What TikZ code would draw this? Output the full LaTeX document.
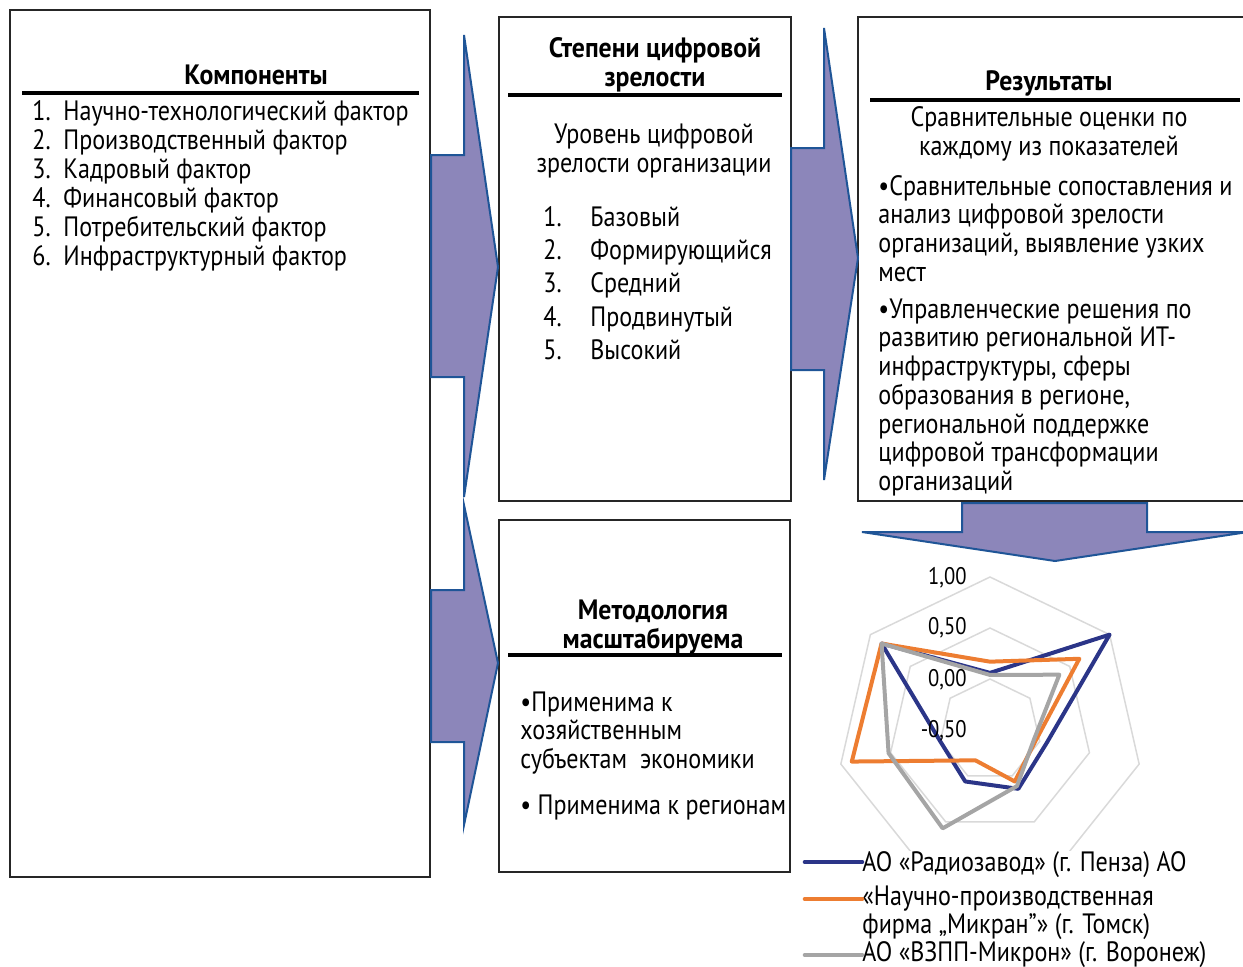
\documentclass[tikz,border=0pt]{standalone}
\usepackage{fontspec}
\setmainfont{PT Sans}[FakeStretch=0.86]
\newfontfamily\ttlfont{PT Sans}[FakeStretch=0.92]
\usetikzlibrary{positioning}

\definecolor{arrowfill}{HTML}{8C86BA}
\definecolor{arrowline}{HTML}{1F5597}
\definecolor{serblue}{HTML}{2B3588}
\definecolor{serorange}{HTML}{ED7D31}
\definecolor{sergray}{HTML}{A5A5A5}
\definecolor{ringgray}{HTML}{D9D9D9}

\tikzset{
  box/.style={draw=black!85, line width=1pt},
  rule/.style={line width=2.2pt},
  blockarrow/.style={fill=arrowfill, draw=arrowline, line width=1pt},
  ttl/.style={font=\ttlfont\fontsize{14}{14.5}\selectfont\bfseries, align=center, inner sep=0pt},
  txt/.style={font=\fontsize{14}{14.5}\selectfont, inner sep=0pt},
  axlbl/.style={font=\fontsize{12}{12}\selectfont, inner sep=0pt, anchor=east},
  ring/.style={draw=ringgray, line width=0.75pt},
  series/.style={line width=2pt, line join=round},
  legkey/.style={line width=2.3pt, line cap=round},
}

\begin{document}
\begin{tikzpicture}[x=0.5pt,y=-0.5pt]
\useasboundingbox (0,0) rectangle (1243,966);

% frames
\draw[box] (10,10) rectangle (430,877);     %components
\draw[box] (499,17) rectangle (791,501);    %maturity levels
\draw[box] (858,17) rectangle (1262,501);   %results
\draw[box] (499,520) rectangle (790,872);   %methodology

% block arrows
\draw[blockarrow] (431,155) -- (464,155) -- (464,35) -- (498,267) -- (464,497) -- (464,377) -- (431,377) -- cycle;
\draw[blockarrow] (791,148) -- (824,148) -- (824,28) -- (858,258) -- (824,480) -- (824,370) -- (791,370) -- cycle;
\draw[blockarrow] (431,590) -- (464,590) -- (464,505) -- (498,663) -- (464,825) -- (464,742) -- (431,742) -- cycle;
\draw[blockarrow] (962,503) -- (1147,503) -- (1147,532) -- (1248,532) -- (1055,561) -- (862,532) -- (962,532) -- cycle;

% components
\node[ttl] (komp) at (256,75) {Компоненты};
\draw[rule] (22,93) -- (419,93);
\node[txt, anchor=base west] (kompList) at (32,120) {\begin{tabular}[t]{@{}p{15.5pt}@{}l@{}}
1. & Научно-технологический фактор\\
2. & Производственный фактор\\
3. & Кадровый фактор\\
4. & Финансовый фактор\\
5. & Потребительский фактор\\
6. & Инфраструктурный фактор
\end{tabular}};

% maturity levels
\node[ttl] (stepen) at (655,65) {Степени цифровой\\зрелости};
\draw[rule] (508,95) -- (782,95);
\node[txt, align=center] (uroven) at (654,151) {Уровень цифровой\\зрелости организации};
\node[txt, anchor=base west, font=\fontsize{14}{16.7}\selectfont] (stepenList) at (543,226) {\begin{tabular}[t]{@{}p{23.5pt}@{}l@{}}
1. & Базовый\\
2. & Формирующийся\\
3. & Средний\\
4. & Продвинутый\\
5. & Высокий
\end{tabular}};

% results
\node[ttl] (rez) at (1049,83) {Результаты};
\draw[rule] (870,100) -- (1240,100);
\node[txt, align=center, font=\fontsize{14}{14.5}\selectfont] (ocenki) at (1049,134) {Сравнительные оценки по\\каждому из показателей};
\node[txt, anchor=base west, font=\fontsize{14}{14.35}\selectfont] (sopost) at (878,195) {\begin{tabular}[t]{@{}l@{}}
•Сравнительные сопоставления и\\
анализ цифровой зрелости\\
организаций, выявление узких\\
мест
\end{tabular}};
\node[txt, anchor=base west, font=\fontsize{14}{14.35}\selectfont] (resheniya) at (878,318) {\begin{tabular}[t]{@{}l@{}}
•Управленческие решения по\\
развитию региональной ИТ-\\
инфраструктуры, сферы\\
образования в регионе,\\
региональной поддержке\\
цифровой трансформации\\
организаций
\end{tabular}};

% methodology
\node[ttl] (metod) at (653,627) {Методология\\масштабируема};
\draw[rule] (508,655) -- (782,655);
\node[txt, anchor=base west, font=\fontsize{14}{14.25}\selectfont] (subj) at (520,711) {\begin{tabular}[t]{@{}l@{}}
•Применима к\\
хозяйственным\\
субъектам\ \ экономики
\end{tabular}};
\node[txt, anchor=base west] (regiony) at (520,814) {• Применима к регионам};

% radar chart
\begin{scope}[shift={(990,730)}, x=51pt, y=51pt]
\draw[ring] (90:0.5) -- (38.57:0.5) -- (-12.86:0.5) -- (-64.29:0.5) -- (-115.71:0.5) -- (-167.14:0.5) -- (141.43:0.5) -- cycle;
\draw[ring] (90:1) -- (38.57:1) -- (-12.86:1) -- (-64.29:1) -- (-115.71:1) -- (-167.14:1) -- (141.43:1) -- cycle;
\draw[ring] (90:1.5) -- (38.57:1.5) -- (-12.86:1.5) -- (-64.29:1.5) -- (-115.71:1.5) -- (-167.14:1.5) -- (141.43:1.5) -- cycle;
\draw[series, serblue] (90:0.56) -- (38.57:1.5) -- (-12.86:0.57) -- (-64.29:0.64) -- (-115.71:0.56) -- (-167.14:0.5) -- (141.43:1.36) -- cycle;
\draw[series, serorange] (90:0.67) -- (38.57:1.12) -- (-12.86:0.46) -- (-64.29:0.56) -- (-115.71:0.33) -- (-167.14:1.39) -- (141.43:1.36) -- cycle;
\draw[series, sergray] (90:0.54) -- (38.57:0.87) -- (-12.86:0.44) -- (-64.29:0.61) -- (-115.71:1.07) -- (-167.14:1.02) -- (141.43:1.36) -- cycle;
\end{scope}
\node[axlbl] (v100) at (967,578) {1,00};
\node[axlbl] (v050) at (967,628) {0,50};
\node[axlbl] (v000) at (967,680) {0,00};
\node[axlbl] (vm050) at (967,731) {-0,50};

% legend
\node[txt, anchor=base west, fill=white] (leg1) at (862,871) {АО «Радиозавод» (г. Пенза) АО};
\node[txt, anchor=base west, font=\fontsize{14}{14}\selectfont] (leg2) at (862,905) {\begin{tabular}[t]{@{}l@{}}
«Научно-производственная\\
фирма „Микран”» (г. Томск)
\end{tabular}};
\node[txt, anchor=base west] (leg3) at (862,961) {АО «ВЗПП-Микрон» (г. Воронеж)};
\draw[legkey, serblue] (805,862) -- (leg1.west |- 0,862);
\draw[legkey, serorange] (805,899) -- (leg2.west |- 0,899);
\draw[legkey, sergray] (805,955) -- (leg3.west |- 0,955);
\end{tikzpicture}
\end{document}
